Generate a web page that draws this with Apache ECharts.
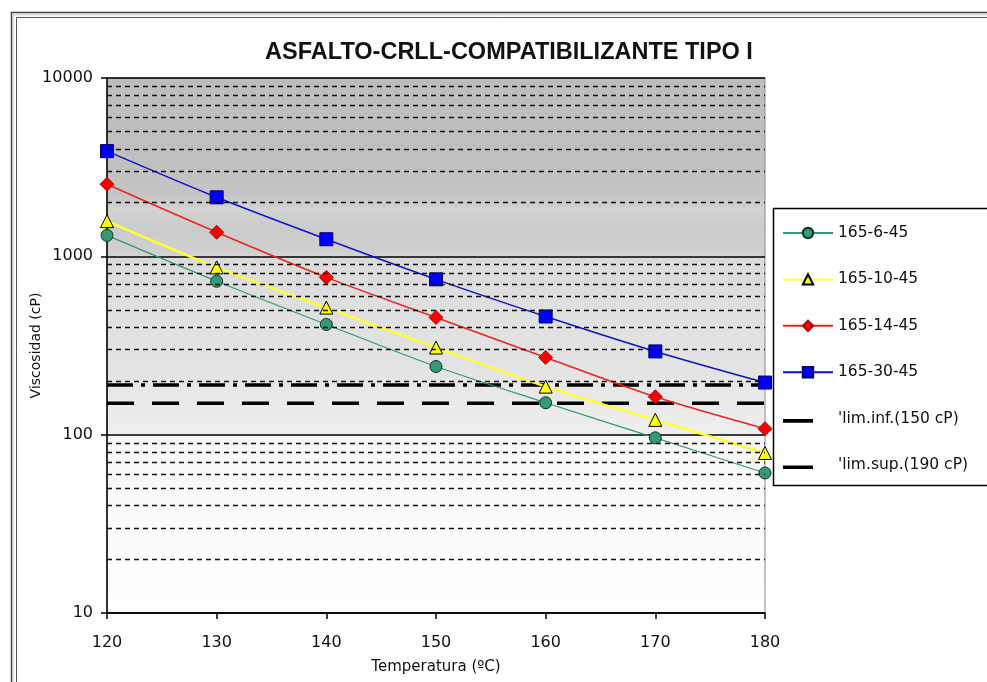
<!DOCTYPE html>
<html>
<head>
<meta charset="utf-8">
<script src="https://cdn.jsdelivr.net/npm/echarts@6/dist/echarts.min.js"></script>
<style>
html,body{margin:0;padding:0;background:#fff;}
#c{width:987px;height:682px;}
</style>
</head>
<body>
<div id="c"></div>
<script>
// ---- data ----
const temps = [120, 130, 140, 150, 160, 170, 180];
const s6_45  = [1310, 725, 415, 241, 151, 96, 61];
const s10_45 = [1575, 867, 516, 308, 186, 121, 79];
const s14_45 = [2535, 1365, 762, 454, 271, 163, 108];
const s30_45 = [3890, 2143, 1247, 743, 460, 293, 196];
const limInf = 150;
const limSup = 190;
const seriesNames = ['165-6-45', '165-10-45', '165-14-45', '165-30-45', "'lim.inf.(150 cP)", "'lim.sup.(190 cP)"];
const minorGrid = [20,30,40,50,60,70,80,90,200,300,400,500,600,700,800,900,2000,3000,4000,5000,6000,7000,8000,9000];
const xMin = 120, xMax = 180, xStep = 10;
const yMin = 10, yMax = 10000;

const FONT = '"DejaVu Sans", Verdana, sans-serif';
const pair = (xs, ys) => xs.map((x, i) => [x, ys[i]]);
const limIcon = 'path://M0,4.5h30v3.6h-30z M50,0h0.05v0.05h-0.05z';

const chart = echarts.init(document.getElementById('c'), null, {renderer: 'canvas'});

const option = {
  animation: false,
  backgroundColor: '#ffffff',
  title: {
    text: 'ASFALTO-CRLL-COMPATIBILIZANTE TIPO I',
    left: 504, top: 36, textAlign: 'center',
    textStyle: {fontFamily: '"Liberation Sans", Arial, sans-serif', fontWeight: 'bold', fontSize: 23.5, color: '#111'}
  },
  grid: {
    left: 107, right: 222, top: 78, bottom: 69,
    show: true,
    borderColor: '#8a8a8a', borderWidth: 1,
    backgroundColor: new echarts.graphic.LinearGradient(0, 0, 0, 1, [
      {offset: 0.00, color: '#bdbdbd'},
      {offset: 0.16, color: '#c0c0c0'},
      {offset: 0.22, color: '#c5c5c5'},
      {offset: 0.245, color: '#d3d3d3'},
      {offset: 0.28, color: '#cbcbcb'},
      {offset: 0.33, color: '#d0d0d0'},
      {offset: 0.335, color: '#dbdbdb'},
      {offset: 0.55, color: '#e4e4e4'},
      {offset: 0.665, color: '#efefef'},
      {offset: 0.67, color: '#f7f7f7'},
      {offset: 1.00, color: '#ffffff'}
    ])
  },
  legend: {
    orient: 'vertical',
    left: 777, top: 220,
    itemWidth: 50, itemHeight: 13,
    itemGap: 30.4,
    textStyle: {fontFamily: FONT, fontSize: 15.5, color: '#111'},
    data: [
      {name: seriesNames[0]},
      {name: seriesNames[1]},
      {name: seriesNames[2]},
      {name: seriesNames[3]},
      {name: seriesNames[4], icon: limIcon, itemStyle: {color: '#000'}},
      {name: seriesNames[5], icon: limIcon, itemStyle: {color: '#000'}}
    ]
  },
  xAxis: {
    type: 'value', min: xMin, max: xMax, interval: xStep,
    name: 'Temperatura (ºC)', nameLocation: 'middle', nameGap: 47,
    nameTextStyle: {fontFamily: FONT, fontSize: 15, color: '#111'},
    axisLine: {show: true, onZero: false, lineStyle: {color: '#000', width: 1.5}},
    axisTick: {show: true, length: 6, lineStyle: {color: '#000', width: 1.5}},
    axisLabel: {fontFamily: FONT, fontSize: 16, color: '#111', margin: 22},
    splitLine: {show: false}
  },
  yAxis: {
    type: 'log', logBase: 10, min: yMin, max: yMax,
    name: 'Viscosidad (cP)', nameLocation: 'middle', nameGap: 64, nameRotate: 90,
    nameMoveOverlap: false,
    nameTextStyle: {fontFamily: FONT, fontSize: 14, color: '#111'},
    axisLine: {show: true, lineStyle: {color: '#000', width: 1.5}},
    axisTick: {show: true, length: 6, lineStyle: {color: '#000', width: 1.5}},
    axisLabel: {fontFamily: FONT, fontSize: 16, color: '#111', margin: 14, formatter: v => String(v)},
    splitLine: {show: true, lineStyle: {color: '#000', width: 1.5}}
  },
  series: [
    {
      name: '__grid', type: 'line', data: [], silent: true, z: 1,
      markLine: {
        silent: true, symbol: ['none', 'none'], animation: false,
        label: {show: false},
        lineStyle: {color: '#111', width: 1.3, type: [5, 4]},
        data: minorGrid.map(v => ({yAxis: v}))
      }
    },
    {
      name: seriesNames[4], type: 'line', z: 2,
      data: [[xMin, limInf], [xMax, limInf]],
      symbol: 'none', color: '#000',
      lineStyle: {color: '#000', width: 3.5, type: [27, 18]}
    },
    {
      name: seriesNames[5], type: 'line', z: 2,
      data: [[xMin, limSup], [xMax, limSup]],
      symbol: 'none', color: '#000',
      lineStyle: {color: '#000', width: 3.5, type: [26, 8, 4, 8]}
    },
    {
      name: seriesNames[0], type: 'line', z: 3, smooth: 0.3,
      data: pair(temps, s6_45),
      symbol: 'circle', symbolSize: 12,
      color: '#339977',
      lineStyle: {color: '#339977', width: 1.2},
      itemStyle: {color: '#339977', borderColor: '#113322', borderWidth: 1}
    },
    {
      name: seriesNames[1], type: 'line', z: 3, smooth: 0.3,
      data: pair(temps, s10_45),
      symbol: 'triangle', symbolSize: 13,
      color: '#ffff00',
      lineStyle: {color: '#ffff33', width: 2.5},
      itemStyle: {color: '#ffff00', borderColor: '#000', borderWidth: 1}
    },
    {
      name: seriesNames[2], type: 'line', z: 3, smooth: 0.3,
      data: pair(temps, s14_45),
      symbol: 'diamond', symbolSize: 14,
      color: '#ff0000',
      lineStyle: {color: '#ee2222', width: 1.5},
      itemStyle: {color: '#ff0000', borderColor: '#991111', borderWidth: 1}
    },
    {
      name: seriesNames[3], type: 'line', z: 3, smooth: 0.3,
      data: pair(temps, s30_45),
      symbol: 'rect', symbolSize: 13,
      color: '#0000ff',
      lineStyle: {color: '#1111cc', width: 1.5},
      itemStyle: {color: '#0000ff', borderColor: '#000066', borderWidth: 1}
    }
  ],
  graphic: [
    {type: 'rect', z: -10, silent: true, shape: {x: 11.5, y: 12.5, width: 990, height: 690},
     style: {fill: 'none', stroke: '#444', lineWidth: 1.5}},
    {type: 'rect', z: -10, silent: true, shape: {x: 13.5, y: 14.5, width: 990, height: 690},
     style: {fill: 'none', stroke: '#bbb', lineWidth: 2, lineDash: [1, 1]}},
    {type: 'rect', z: -10, silent: true, shape: {x: 16.5, y: 17.5, width: 990, height: 690},
     style: {fill: 'none', stroke: '#555', lineWidth: 1}},
    {type: 'rect', z: -5, silent: true, shape: {x: 773.5, y: 208.5, width: 240, height: 277},
     style: {fill: '#fff', stroke: '#000', lineWidth: 1.5}}
  ]
};
chart.setOption(option);
</script>
</body>
</html>
